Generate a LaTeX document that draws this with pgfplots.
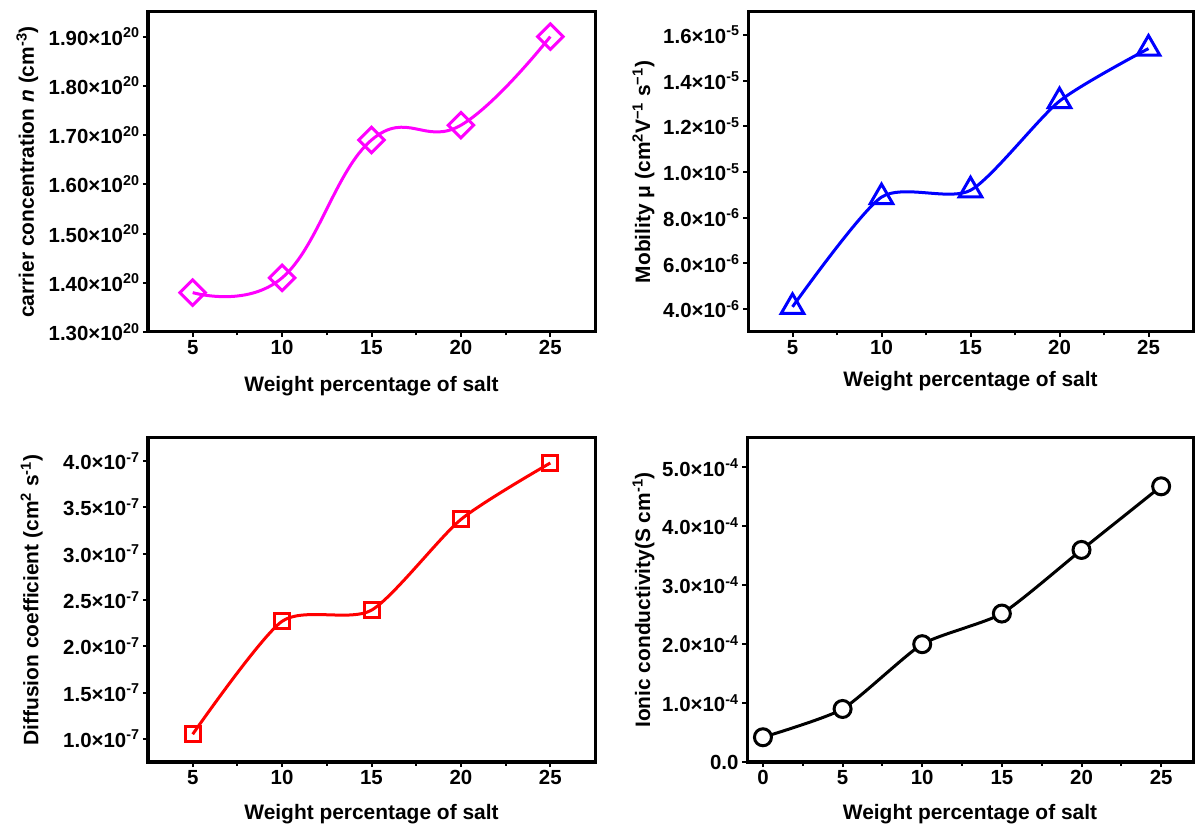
\documentclass[border=0pt]{standalone}
\usepackage{fontspec}
\setmainfont{Liberation Sans}
\usepackage{pgfplots}
\pgfplotsset{compat=1.18}

\newcommand{\sci}[2]{#1×10\textsuperscript{#2}}

\pgfplotsset{
  panel/.style={
    scale only axis,
    anchor=south west,
    axis line style={line width=3bp},
    every tick/.style={black, line width=2bp},
    tick align=outside,
    xtick pos=bottom,
    ytick pos=left,
    major tick length=5bp,
    minor tick length=3.5bp,
    minor x tick num=1,
    scaled y ticks=false,
    /pgf/number format/assume math mode=true,
    tick label style={font=\fontsize{20.5}{21}\selectfont\bfseries},
    label style={font=\fontsize{21}{23}\selectfont\bfseries},
    xlabel={Weight percentage of salt},
    xlabel style={at={(axis description cs:0.5,0)}, anchor=center, yshift=-52bp},
    ylabel style={anchor=center},
    clip=false,
  },
  curve/.style={line width=3bp, smooth, tension=0.6,
    mark options={line width=3bp, solid, fill=white}},
}

\begin{document}
\begin{tikzpicture}
\useasboundingbox (0,0) rectangle (1195bp,831bp);

% carrier concentration
\begin{axis}[panel, at={(148bp,499bp)}, width=447bp, height=320bp,
  xmin=2.5, xmax=27.5, xtick={5,10,15,20,25},
  ymin=1.30e20, ymax=1.95e20,
  ytick={1.3e20,1.4e20,1.5e20,1.6e20,1.7e20,1.8e20,1.9e20},
  yticklabels={\sci{1.30}{20},\sci{1.40}{20},\sci{1.50}{20},\sci{1.60}{20},\sci{1.70}{20},\sci{1.80}{20},\sci{1.90}{20}},
  ylabel={carrier concentration \textit{n} (cm\textsuperscript{-3})},
  ylabel style={at={(axis description cs:-0.27,0.5)}},
  xlabel style={yshift=-2bp}]
\addplot[curve, tension=0.72, color={rgb,255:red,255;green,0;blue,255}, mark=square, mark size=9bp,
  mark options={rotate=45}]
  coordinates {(5,1.38e20) (10,1.41e20) (15,1.69e20) (20,1.72e20) (25,1.90e20)};
\end{axis}

% mobility
\begin{axis}[panel, at={(748bp,499bp)}, width=445bp, height=320bp,
  xmin=2.5, xmax=27.5, xtick={5,10,15,20,25},
  ymin=3e-6, ymax=1.7e-5,
  ytick={4e-6,6e-6,8e-6,1e-5,1.2e-5,1.4e-5,1.6e-5},
  yticklabels={\sci{4.0}{-6},\sci{6.0}{-6},\sci{8.0}{-6},\sci{1.0}{-5},\sci{1.2}{-5},\sci{1.4}{-5},\sci{1.6}{-5}},
  ylabel={Mobility μ (cm\textsuperscript{2}V\textsuperscript{−1} s\textsuperscript{−1})},
  ylabel style={at={(axis description cs:-0.235,0.5)}},
  xlabel style={yshift=3bp}]
\addplot[curve, tension=0.42, color=blue, mark=triangle, mark size=13bp]
  coordinates {(5,4.1e-6) (10,8.9e-6) (15,9.2e-6) (20,1.31e-5) (25,1.54e-5)};
\end{axis}

% diffusion coefficient
\begin{axis}[panel, at={(148bp,69bp)}, width=447bp, height=324bp,
  xmin=2.5, xmax=27.5, xtick={5,10,15,20,25},
  ymin=0.75e-7, ymax=4.25e-7,
  ytick={1e-7,1.5e-7,2e-7,2.5e-7,3e-7,3.5e-7,4e-7},
  yticklabels={\sci{1.0}{-7},\sci{1.5}{-7},\sci{2.0}{-7},\sci{2.5}{-7},\sci{3.0}{-7},\sci{3.5}{-7},\sci{4.0}{-7}},
  ylabel={Diffusion coefficient (cm\textsuperscript{2} s\textsuperscript{-1})},
  ylabel style={at={(axis description cs:-0.26,0.5)}}]
\addplot[curve, tension=0.42, color=red, mark=square, mark size=7.5bp]
  coordinates {(5,1.05e-7) (10,2.27e-7) (15,2.39e-7) (20,3.37e-7) (25,3.98e-7)};
\end{axis}

% ionic conductivity
\begin{axis}[panel, at={(747bp,69bp)}, width=446bp, height=324bp,
  xmin=-1, xmax=27, xtick={0,5,10,15,20,25},
  ymin=0, ymax=5.5e-4,
  ytick={0,1e-4,2e-4,3e-4,4e-4,5e-4},
  yticklabels={0.0,\sci{1.0}{-4},\sci{2.0}{-4},\sci{3.0}{-4},\sci{4.0}{-4},\sci{5.0}{-4}},
  ylabel={Ionic conductivity(S cm\textsuperscript{-1})},
  ylabel style={at={(axis description cs:-0.232,0.5)}}]
\addplot[curve, tension=0.35, color=black, mark=*, mark size=8.5bp]
  coordinates {(0,0.42e-4) (5,0.9e-4) (10,2.0e-4) (15,2.52e-4) (20,3.6e-4) (25,4.68e-4)};
\end{axis}
\end{tikzpicture}
\end{document}
